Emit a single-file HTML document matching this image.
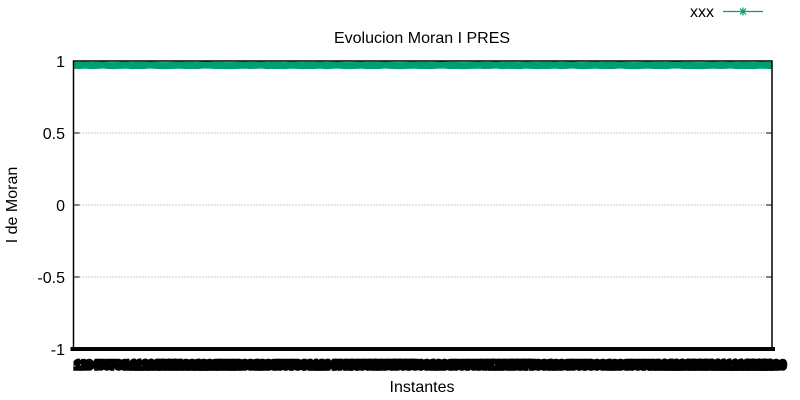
<!DOCTYPE html>
<html><head><meta charset="utf-8"><style>
body{margin:0;background:#fff}
svg{display:block;font-family:"Liberation Sans",sans-serif}
</style></head><body>
<svg id="chart" width="800" height="400" viewBox="0 0 800 400">
<rect x="0" y="0" width="800" height="400" fill="#fff"/>
<text x="422" y="43" font-size="16" text-anchor="middle">Evolucion Moran I PRES</text>
<text transform="translate(17,205) rotate(-90)" font-size="16" text-anchor="middle">I de Moran</text>
<text x="422" y="392" font-size="16" text-anchor="middle">Instantes</text>
<g id="grid"></g>
<g id="yticks"></g>
<g id="xticks"></g>
<g id="series"></g>
<rect x="73.5" y="61" width="698.5" height="288" fill="none" stroke="#000" stroke-width="1.5"/>
<g>
<text x="714" y="17" font-size="16" text-anchor="end">xxx</text>
<line x1="723" y1="11.5" x2="763" y2="11.5" stroke="#009e73" stroke-width="1.2"/>
<g stroke="#009e73" stroke-width="1.2">
<line x1="739" y1="11.5" x2="747" y2="11.5"/><line x1="743" y1="7.5" x2="743" y2="15.5"/>
<line x1="740" y1="8.5" x2="746" y2="14.5"/><line x1="746" y1="8.5" x2="740" y2="14.5"/>
</g>
</g>
</svg>
<script>
const yTicks = [1, 0.5, 0, -0.5, -1];
const yTickLabels = ["1", "0.5", "0", "-0.5", "-1"];
const values = [0.97,0.969,0.971,0.968,0.97,0.972,0.969,0.968,0.97,0.971,0.968,0.97,0.969,0.972,0.97,0.968,0.968,0.97,0.971,0.969,
0.97,0.968,0.971,0.972,0.969,0.97,0.968,0.968,0.97,0.971,0.969,0.97,0.972,0.968,0.97,0.969,0.968,0.971,0.97,0.968,
0.97,0.969,0.971,0.968,0.97,0.972,0.969,0.968,0.97,0.971,0.968,0.97,0.969,0.972,0.97,0.968,0.968,0.97,0.971,0.969,
0.97,0.968,0.971,0.972,0.969,0.97,0.968,0.968,0.97,0.971,0.969,0.97,0.972,0.968,0.97,0.969,0.968,0.971,0.97,0.968,
0.97,0.969,0.971,0.968,0.97,0.972,0.969,0.968,0.97,0.971,0.968,0.97,0.969,0.972,0.97,0.968,0.968,0.97,0.971,0.969,
0.97,0.968,0.971,0.972,0.969,0.97,0.968,0.968,0.97,0.971,0.969,0.97,0.972,0.968,0.97,0.969,0.968,0.971,0.97,0.968];
const categories = values.map((v,i)=>String(i+1));

const NS="http://www.w3.org/2000/svg";
const L=73.5,R=772,T=61,B=349;
function y(v){return T+(1-v)/2*(B-T);}
function x(i){return L+i/(categories.length-1)*(R-L);}
function mk(tag,attrs,parent){const e=document.createElementNS(NS,tag);for(const k in attrs)e.setAttribute(k,attrs[k]);parent.appendChild(e);return e;}
const grid=document.getElementById('grid'),yt=document.getElementById('yticks'),xt=document.getElementById('xticks'),ser=document.getElementById('series');
yTicks.forEach((v,i)=>{
  if(v<1&&v>-1){const g=mk('line',{x1:L,x2:R,y1:y(v),y2:y(v),stroke:'#999','stroke-width':1,'stroke-dasharray':'1,2'},grid);
  
  }
  const t=mk('text',{x:65,y:y(v)+6,'font-size':16,'text-anchor':'end'},yt);t.textContent=yTickLabels[i];
  
  
  const tk=mk('line',{x1:L,x2:L+6,y1:y(v),y2:y(v),stroke:'#000'},yt);
  
  
  const tk2=mk('line',{x1:R-6,x2:R,y1:y(v),y2:y(v),stroke:'#000'},yt);
  
  
});
mk('rect',{x:L,y:B-2,width:R-L,height:4,fill:'#000'},xt);
categories.forEach((c,i)=>{
  const tk=mk('line',{x1:x(i),x2:x(i),y1:B-2,y2:B+2,stroke:'#000','stroke-width':6},xt);
  
  
  const t=mk('text',{x:x(i)+4,y:369,'font-size':12,'text-anchor':'middle',stroke:'#000','stroke-width':3.5},xt);t.textContent=c;
  
  
});
const pl=mk('polyline',{points:values.map((v,i)=>x(i)+','+y(v)).join(' '),fill:'none',stroke:'#009e73','stroke-width':7},ser);


</script>
</body></html>
